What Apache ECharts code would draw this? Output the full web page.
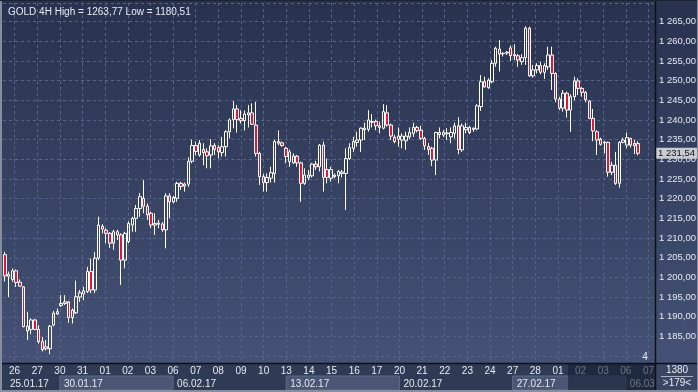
<!DOCTYPE html>
<html><head><meta charset="utf-8">
<script src="https://cdn.jsdelivr.net/npm/echarts@6/dist/echarts.min.js"></script>
<style>html,body{margin:0;padding:0;background:#2e3950}#c{width:698px;height:392px}</style>
</head><body><div id="c"></div><script>
const titleText = 'GOLD 4H High = 1263,77 Low = 1180,51';
const opens = [1205.8,1200.3,1199.5,1201.7,1198.8,1197.6,1186.4,1186.8,1189.2,1186.8,1183.7,1181.9,1181.9,1187.9,1190.7,1192.9,1193.4,1193.8,1189.8,1191.0,1195.0,1195.8,1196.4,1201.5,1196.8,1204.9,1213.0,1212.0,1211.2,1208.7,1211.6,1210.8,1204.4,1209.1,1213.3,1215.0,1217.5,1220.1,1218.1,1216.3,1213.3,1213.5,1213.6,1212.1,1220.7,1219.2,1220.1,1223.9,1223.2,1223.7,1229.5,1233.5,1231.1,1232.5,1231.9,1231.1,1233.5,1233.0,1231.7,1233.2,1237.0,1240.1,1242.8,1240.4,1239.8,1241.3,1241.8,1238.7,1231.5,1225.6,1224.1,1225.2,1226.4,1234.5,1234.2,1232.8,1229.4,1229.1,1230.8,1229.1,1223.9,1225.4,1225.8,1228.8,1228.1,1233.6,1227.4,1225.2,1226.0,1225.8,1226.4,1226.4,1230.2,1232.8,1234.3,1234.9,1237.5,1237.6,1239.6,1239.6,1238.5,1237.9,1241.8,1238.7,1235.6,1235.1,1234.9,1234.7,1235.7,1236.6,1238.1,1237.4,1235.3,1233.2,1232.8,1229.8,1236.8,1236.2,1236.7,1235.7,1236.6,1238.5,1232.4,1237.5,1238.1,1237.6,1237.7,1243.4,1249.7,1248.2,1249.7,1254.4,1258.0,1256.8,1257.0,1258.3,1256.3,1256.3,1254.8,1255.8,1263.3,1251.2,1252.7,1253.8,1252.1,1253.5,1256.5,1251.8,1245.3,1243.0,1246.8,1242.5,1245.9,1249.9,1248.0,1247.0,1244.8,1240.4,1237.0,1235.1,1234.2,1234.3,1226.7,1228.5,1223.9,1234.3,1233.6,1235.3,1233.5,1234.0];
const closes = [1200.4,1200.8,1201.7,1198.7,1197.8,1187.5,1187.6,1189.2,1186.8,1183.7,1181.7,1182.4,1187.6,1190.9,1191.3,1193.4,1193.8,1189.8,1191.7,1195.1,1196.1,1196.6,1201.5,1196.8,1204.9,1213.3,1212.3,1211.2,1208.7,1211.6,1210.8,1204.4,1211.2,1213.7,1215.0,1217.5,1220.5,1218.1,1215.9,1213.3,1213.7,1213.8,1212.1,1220.7,1219.2,1220.3,1223.9,1223.1,1223.7,1229.5,1233.5,1232.0,1234.1,1231.7,1230.9,1233.4,1232.5,1231.9,1233.2,1237.0,1240.0,1242.8,1240.1,1239.8,1241.5,1241.8,1238.9,1231.5,1225.6,1224.1,1225.4,1226.6,1234.5,1234.1,1233.5,1230.7,1231.9,1230.8,1229.1,1223.9,1226.0,1226.0,1228.8,1228.1,1233.6,1225.4,1225.4,1227.4,1225.6,1226.9,1226.8,1230.2,1233.0,1234.5,1234.9,1237.9,1237.9,1240.0,1239.4,1238.5,1238.1,1242.1,1238.7,1235.9,1234.5,1235.9,1235.9,1235.9,1236.8,1238.1,1237.3,1235.3,1233.4,1232.5,1229.8,1236.8,1236.3,1236.8,1236.5,1236.8,1238.5,1232.5,1238.5,1238.1,1236.8,1237.9,1243.6,1249.7,1248.4,1250.1,1254.4,1258.2,1256.7,1256.9,1257.2,1256.3,1256.6,1255.2,1255.8,1263.3,1251.2,1252.7,1253.8,1252.1,1253.8,1256.5,1251.8,1245.3,1243.0,1246.8,1242.5,1245.9,1249.9,1248.0,1247.0,1245.1,1240.4,1237.2,1234.9,1233.8,1234.4,1226.7,1228.5,1223.9,1234.3,1234.9,1235.5,1233.6,1234.0,1231.54];
const lows = [1199.0,1195.0,1198.9,1197.6,1197.6,1187.3,1184.1,1185.6,1186.6,1183.2,1181.2,1181.5,1180.51,1187.6,1190.5,1192.5,1193.0,1188.5,1188.3,1190.7,1193.8,1194.2,1196.0,1196.0,1196.0,1204.4,1211.2,1208.7,1207.5,1207.0,1209.5,1198.1,1202.3,1208.7,1211.6,1211.6,1215.4,1216.3,1214.6,1212.5,1210.8,1212.5,1211.6,1207.4,1215.0,1218.8,1219.2,1222.2,1221.8,1223.0,1229.0,1231.0,1230.7,1228.5,1227.7,1227.7,1231.1,1230.2,1230.7,1230.7,1235.3,1237.9,1236.8,1239.1,1237.3,1238.1,1238.7,1230.7,1223.5,1221.8,1221.8,1224.1,1224.1,1233.6,1233.2,1229.0,1228.1,1228.8,1228.1,1219.2,1223.5,1224.7,1225.4,1227.3,1226.9,1221.8,1223.9,1224.3,1225.2,1223.9,1225.4,1217.1,1229.8,1231.9,1233.2,1231.9,1234.9,1237.0,1238.1,1237.4,1236.6,1237.6,1238.3,1234.9,1234.1,1233.2,1232.8,1232.4,1235.1,1235.7,1236.8,1234.9,1232.4,1231.1,1228.3,1226.0,1235.3,1235.7,1234.9,1234.1,1235.3,1231.3,1231.9,1236.6,1236.4,1237.0,1237.4,1242.3,1248.2,1247.9,1249.3,1253.5,1252.3,1256.1,1256.5,1255.0,1255.2,1253.5,1254.0,1254.0,1251.0,1250.7,1251.8,1251.6,1250.4,1252.7,1247.6,1244.5,1242.5,1242.1,1240.6,1237.0,1245.0,1246.3,1245.9,1244.5,1240.2,1234.6,1231.1,1233.5,1231.5,1225.6,1226.0,1223.5,1222.8,1234.1,1232.8,1233.0,1231.3,1231.0];
const highs = [1206.5,1201.5,1202.3,1202.0,1199.5,1197.8,1191.3,1189.6,1189.4,1187.9,1184.9,1184.1,1187.9,1191.5,1192.1,1195.5,1195.5,1194.0,1192.1,1199.2,1196.8,1197.6,1202.7,1204.8,1206.5,1215.4,1213.5,1212.5,1211.5,1212.1,1212.1,1211.2,1211.6,1214.2,1215.4,1218.4,1221.4,1224.7,1218.8,1216.7,1216.3,1214.6,1214.0,1221.4,1221.4,1220.7,1224.3,1224.3,1224.1,1230.5,1235.0,1234.5,1234.9,1234.1,1232.8,1235.1,1234.1,1233.6,1235.7,1237.4,1240.4,1244.8,1243.8,1242.5,1242.4,1243.8,1244.2,1244.6,1231.9,1226.3,1226.4,1228.1,1234.9,1237.3,1234.5,1233.2,1232.5,1231.5,1231.1,1229.4,1227.7,1227.3,1229.1,1229.6,1233.9,1234.5,1230.2,1228.1,1226.4,1227.3,1227.3,1232.8,1234.1,1235.7,1237.0,1238.1,1239.3,1242.5,1241.5,1240.1,1239.6,1244.0,1243.8,1239.1,1236.2,1238.1,1236.6,1237.0,1238.1,1239.3,1238.5,1238.5,1235.7,1234.1,1233.2,1237.0,1238.1,1237.4,1237.9,1238.1,1239.3,1240.7,1239.1,1239.3,1238.5,1238.1,1244.0,1251.4,1251.0,1250.6,1255.2,1258.6,1260.3,1257.2,1257.5,1258.9,1259.2,1256.7,1256.7,1263.77,1263.7,1254.0,1254.4,1254.8,1254.4,1258.6,1258.6,1252.1,1245.9,1247.6,1247.2,1246.5,1251.0,1250.6,1248.4,1247.3,1245.0,1242.8,1237.4,1235.5,1234.6,1234.5,1229.4,1231.9,1234.6,1235.5,1236.8,1235.5,1234.9,1234.6];
const dayLabels = ['25','26','27','30','31','01','02','03','06','07','08','09','10','13','14','15','16','17','20','21','22','23','24','27','28','01','02','03','06','07'];
const weekLabels = ['25.01.17','30.01.17','06.02.17','13.02.17','20.02.17','27.02.17','06.03.'];
const weekStartIdx = [0,3,8,13,18,23,28];
const lastPrice = 1231.54;
const infoCount = '1380';
const infoBars = '>179<';
const cornerNote = '4';

const SLOTS = 174;
const FONT = 'Liberation Sans, Arial, sans-serif';
const FS = 10;
const FSY = 9.5;
const candleCats = Array.from({length: SLOTS}, (_, i) => 'b' + i);
const candleData = opens.map((o, i) => [o, closes[i], lows[i], highs[i]]);
const dayCats = dayLabels.map((d, i) => 'd' + i);

function fmt(v) {
  const s = v.toFixed(2).replace('.', ',');
  const [ip, dp] = s.split(',');
  return ip.replace(/\B(?=(\d{3})+(?!\d))/g, ' ') + ',' + dp;
}

const option = {
  animation: false,
  title: { text: titleText, left: 3, top: 2, textStyle: { color: '#e6ebf3', fontSize: FS, fontWeight: 'normal', fontFamily: FONT } },
  grid: [
    { left: 3, right: 43, top: 3, bottom: 29, outerBoundsMode: 'none', containLabel: false },
    { left: -8.04, right: 49.5, top: 3, bottom: 29, outerBoundsMode: 'none', containLabel: false }
  ],
  xAxis: [
    { type: 'category', gridIndex: 0, data: candleCats, boundaryGap: true,
      axisLine: { show: false }, axisTick: { show: false }, axisLabel: { show: false }, splitLine: { show: false } },
    { type: 'category', gridIndex: 1, data: dayCats, boundaryGap: false, position: 'bottom',
      axisLine: { show: false }, axisTick: { show: false },
      axisLabel: { interval: 0, margin: 3, color: '#e6eaf2', fontSize: FS, fontFamily: FONT,
        formatter: (v, i) => i === 0 ? '' : dayLabels[i] },
      splitLine: { show: true, interval: 0, lineStyle: { color: '#56638a', type: [3, 3], width: 1 } } },
    { type: 'category', gridIndex: 1, data: dayCats, boundaryGap: false, position: 'bottom',
      axisLine: { show: false }, axisTick: { show: false }, splitLine: { show: false },
      axisLabel: { margin: 16, color: '#e6eaf2', fontSize: FS, fontFamily: FONT, align: 'left',
        interval: (i) => weekStartIdx.indexOf(i) >= 0,
        formatter: (v, i) => { const k = weekStartIdx.indexOf(i); if (k < 0) return ''; return (k === 0 ? '{a|' : '{b|') + weekLabels[k] + '}'; },
        rich: { a: { padding: [0, 0, 0, 18], color: '#e6eaf2', fontSize: FS, fontFamily: FONT },
                b: { padding: [0, 0, 0, 4], color: '#e6eaf2', fontSize: FS, fontFamily: FONT } } } }
  ],
  yAxis: [
    { type: 'value', gridIndex: 0, position: 'right', min: 1178.27, max: 1269.70, minInterval: 5, maxInterval: 5, splitNumber: 18,
      axisLine: { show: false }, axisTick: { show: false },
      axisLabel: { color: '#e4e9f2', fontSize: FSY, fontFamily: FONT, margin: 4,
        formatter: (v) => { const r = Math.round(v * 100) / 100; if (Math.abs(r / 5 - Math.round(r / 5)) > 1e-6 || r < 1182 || r > 1267) return ''; return fmt(r); } },
      splitLine: { show: true, lineStyle: { color: '#56638a', type: [3, 3], width: 1 } } },
    { type: 'value', gridIndex: 1, show: false, min: 0, max: 1 }
  ],
  series: [{
    type: 'candlestick', xAxisIndex: 0, yAxisIndex: 0, data: candleData, barWidth: 3,
    itemStyle: { color: 'rgba(0,0,0,0)', color0: '#ee1030', borderColor: '#ffffff', borderColor0: '#ffffff', borderColorDoji: '#ffffff', borderWidth: 1 },
    markLine: { silent: true, symbol: ['none', 'none'], animation: false,
      lineStyle: { color: 'rgba(0,0,0,0)', width: 1, type: 'solid' },
      label: { show: true, position: 'end', distance: 0, formatter: () => fmt(lastPrice), backgroundColor: '#c7cbd2', color: '#111', padding: [1, 2, 0, 3], fontSize: FSY, fontFamily: FONT },
      data: [{ yAxis: lastPrice }] }
  }]
};

const chart = echarts.init(document.getElementById('c'), null, { renderer: 'canvas' });
chart.setOption(option);

const px = i => chart.convertToPixel({ xAxisIndex: 1 }, i);
const graphics = [];
graphics.push({ type: 'rect', z: -10, shape: { x: 0, y: 0, width: 698, height: 392 },
  style: { fill: new echarts.graphic.LinearGradient(0, 0, 0, 1, [{ offset: 0, color: '#28324f' }, { offset: 1, color: '#475478' }]) } });
graphics.push({ type: 'rect', z: -9, shape: { x: 0, y: 363, width: 698, height: 29 }, style: { fill: '#2f3a55' } });
for (let k = 1; k < weekStartIdx.length - 1; k += 2) {
  const x0 = px(weekStartIdx[k]);
  const x1 = px(weekStartIdx[k + 1]);
  graphics.push({ type: 'rect', z: -8, shape: { x: x0, y: 376, width: x1 - x0, height: 14 },
    style: { fill: '#4a5674', stroke: '#5f6b88', lineWidth: 1 } });
}
const ovX = px(25) + 0.45 * (px(26) - px(25));
graphics.push({ type: 'rect', z: 50, shape: { x: ovX, y: 364, width: 655 - ovX, height: 28 }, style: { fill: 'rgba(22,30,50,0.6)' } });
graphics.push({ type: 'rect', z: 51, shape: { x: 656, y: 364, width: 42, height: 28 }, style: { fill: '#3a4664' } });
graphics.push({ type: 'text', z: 52, x: 677, y: 370, style: { text: infoCount, fill: '#e8ecf4', font: FS + 'px ' + FONT, textAlign: 'center', textVerticalAlign: 'middle' } });
graphics.push({ type: 'line', z: 52, shape: { x1: 661, y1: 376.5, x2: 693, y2: 376.5 }, style: { stroke: '#aab3c3', lineWidth: 1 } });
graphics.push({ type: 'text', z: 52, x: 677, y: 383.5, style: { text: infoBars, fill: '#e8ecf4', font: FS + 'px ' + FONT, textAlign: 'center', textVerticalAlign: 'middle' } });
graphics.push({ type: 'text', z: 52, x: 645, y: 357, style: { text: cornerNote, fill: '#e8ecf4', font: FS + 'px ' + FONT, textAlign: 'center', textVerticalAlign: 'middle' } });
graphics.push({ type: 'line', z: 53, shape: { x1: 0, y1: 363.5, x2: 698, y2: 363.5 }, style: { stroke: '#0d1119', lineWidth: 1.5 } });
graphics.push({ type: 'line', z: 53, shape: { x1: 655.5, y1: 0, x2: 655.5, y2: 392 }, style: { stroke: '#0d1119', lineWidth: 1.5 } });
graphics.push({ type: 'line', z: 53, shape: { x1: 1, y1: 0, x2: 1, y2: 392 }, style: { stroke: '#858ea1', lineWidth: 2 } });
graphics.push({ type: 'line', z: 53, shape: { x1: 0, y1: 391, x2: 698, y2: 391 }, style: { stroke: '#858ea1', lineWidth: 2 } });
graphics.push({ type: 'line', z: 53, shape: { x1: 0, y1: 0.5, x2: 698, y2: 0.5 }, style: { stroke: '#1b2233', lineWidth: 1 } });
graphics.push({ type: 'line', z: 53, shape: { x1: 697.5, y1: 0, x2: 697.5, y2: 392 }, style: { stroke: '#858ea1', lineWidth: 1 } });
chart.setOption({ graphic: graphics });
</script></body></html>
